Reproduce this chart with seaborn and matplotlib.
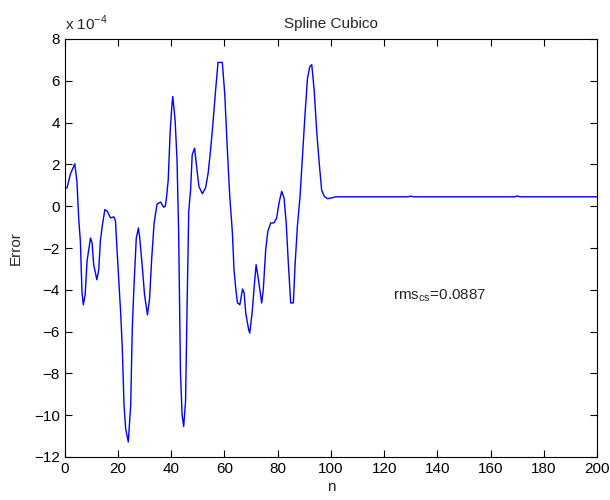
import matplotlib
matplotlib.use("Agg")
import matplotlib.pyplot as plt
import seaborn as sns
import pandas as pd

# Error values in units of 1e-4
n_pts = [0, 0.9, 2.1, 3.8, 4.6, 5.3, 5.9, 6.5, 7.0, 7.7, 8.4, 9.7, 10.3, 10.9, 12.1, 12.8,
         13.4, 14.1, 15.1, 16.0, 17.2, 18.5, 19.1, 19.7, 21.0, 21.6, 22.3, 22.9, 23.9, 24.8,
         25.4, 26.0, 26.9, 27.7, 28.2, 29.2, 30.0, 31.1, 31.9, 32.7, 33.6, 34.7, 36.0, 37.2,
         37.8, 38.3, 38.9, 39.6, 40.2, 40.6, 41.1, 41.5, 42.2, 42.8, 43.5, 44.1, 44.7, 45.4,
         46.0, 46.6, 47.3, 47.9, 48.8, 49.4, 50.4, 51.7, 52.9, 53.9, 54.8, 55.7, 56.7, 57.6,
         59.2, 60.1, 61.1, 62.0, 63.0, 63.6, 64.3, 64.9, 65.8, 66.8, 67.4, 68.0, 69.1, 69.5,
         70.4, 71.3, 71.9, 72.6, 73.3, 74.0, 74.6, 75.5, 76.3, 77.4, 78.6, 79.6, 80.5, 81.5,
         82.4, 83.2, 84.0, 84.9, 85.9, 86.5, 87.4, 88.4, 89.3, 90.3, 91.2, 92.1, 92.8, 93.7,
         94.7, 95.6, 96.5, 97.5, 98.7, 100.0, 101.9, 129, 130, 131, 169, 170, 171, 200]
err_pts = [0.85, 0.88, 1.52, 2.03, 1.2, -0.64, -1.68, -4.08, -4.72, -4.24, -2.64, -1.52, -1.76,
           -2.8, -3.52, -3.04, -1.68, -0.96, -0.16, -0.24, -0.56, -0.51, -0.72, -2.16, -5.04,
           -6.64, -9.52, -10.64, -11.28, -9.52, -5.84, -3.92, -1.52, -1.04, -1.52, -2.96, -4.24,
           -5.2, -4.4, -2.48, -0.8, 0.1, 0.2, -0.05, 0.0, 0.47, 1.27, 3.5, 4.7, 5.25, 4.62, 4.06,
           2.22, -1.21, -7.98, -9.98, -10.54, -9.34, -4.63, -0.25, 0.79, 2.46, 2.78, 2.07, 0.95,
           0.6, 0.87, 1.59, 2.7, 3.98, 5.57, 6.88, 6.88, 5.42, 2.7, 0.47, -1.28, -3.04, -4.0,
           -4.63, -4.71, -3.96, -4.15, -5.11, -5.91, -6.07, -5.11, -3.67, -2.8, -3.36, -4.0,
           -4.63, -4.0, -2.08, -1.21, -0.8, -0.8, -0.57, 0.15, 0.71, 0.39, -0.8, -2.72, -4.63,
           -4.63, -2.88, -0.97, 0.47, 2.38, 4.46, 6.13, 6.69, 6.77, 5.57, 3.5, 2.07, 0.79, 0.47,
           0.36, 0.39, 0.45, 0.45, 0.48, 0.45, 0.45, 0.49, 0.45, 0.45]

x_ticks = list(range(0, 201, 20))
y_ticks = list(range(-12, 9, 2))
title = "Spline Cubico"
x_label = "n"
y_label = "Error"
rms_text = r"rms$_{\mathregular{cs}}$=0.0887"

sns.set_style("ticks")
plt.rcParams["font.family"] = ["Liberation Sans Narrow", "Liberation Sans", "DejaVu Sans"]
plt.rcParams["xtick.direction"] = "in"
plt.rcParams["ytick.direction"] = "in"

df = pd.DataFrame({"n": n_pts, "err": err_pts})

fig = plt.figure(figsize=(6.1, 5.0), dpi=100)
ax = fig.add_axes([0.106, 0.086, 0.873, 0.836])
sns.lineplot(data=df, x="n", y="err", color=(0, 0, 1), linewidth=1.0, ax=ax,
             estimator=None, sort=False)

ax.set_xlim(0, 200)
ax.set_ylim(-12, 8)
ax.set_xticks(x_ticks)
ax.set_yticks(y_ticks)
ax.tick_params(axis="both", which="both", top=True, right=True, length=5,
               width=0.8, labelsize=11, colors="black")
for s in ax.spines.values():
    s.set_visible(True)
    s.set_linewidth(0.8)
    s.set_color("black")
ax.set_xlabel(x_label, fontsize=11, labelpad=3)
ax.set_ylabel(y_label, fontsize=11, labelpad=8)
ax.set_title(title, fontsize=11, pad=8)
ax.text(0.0, 1.015, r"x 10$^{\mathregular{-4}}$", transform=ax.transAxes,
        fontsize=11, ha="left", va="bottom")
ax.text(123.5, -4.3, rms_text, fontsize=11, ha="left", va="center")

fig.savefig("out.png", dpi=100, facecolor="white")
